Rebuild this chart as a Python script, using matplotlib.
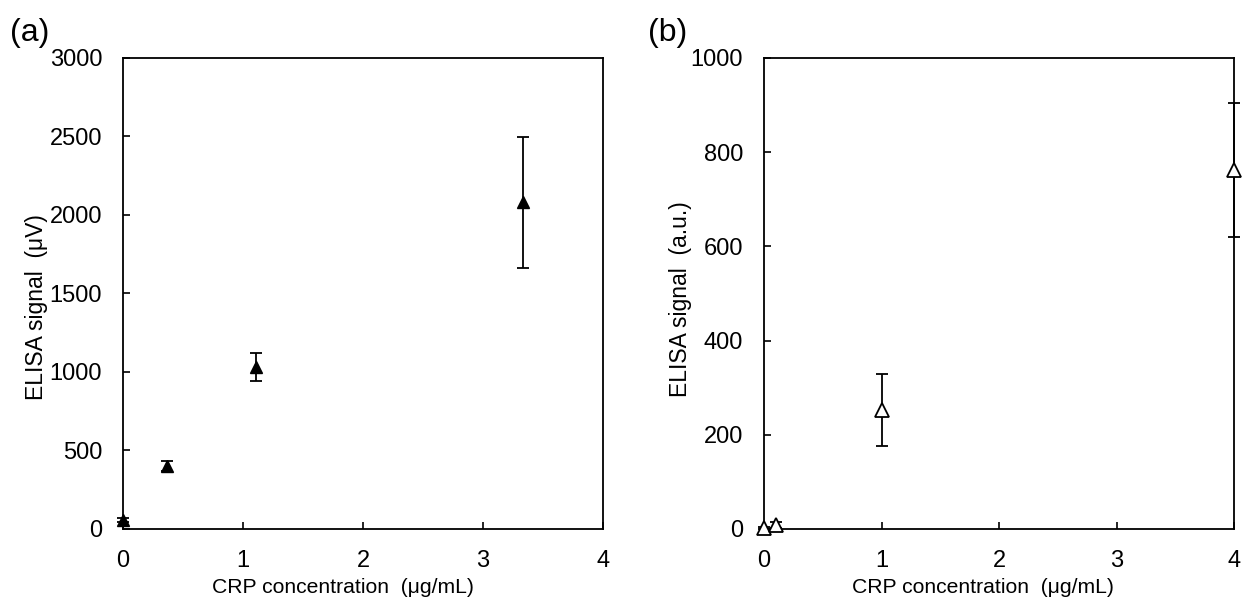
import matplotlib.pyplot as plt

plt.rcParams['font.family'] = ['Liberation Sans', 'DejaVu Sans']

# datos (a)
conc_a = [0, 0.37, 1.11, 3.33]
senal_a = [57, 400, 1030, 2080]
err_a = [15, 30, 90, 415]

# datos (b)
conc_b = [0, 0.1, 1, 4]
senal_b = [3, 8, 253, 762]
err_b = [2, 6, 77, 142]

fig = plt.figure(figsize=(12.47, 6.10), dpi=100)
ax1 = fig.add_axes([0.0986, 0.1328, 0.385, 0.7722])
ax2 = fig.add_axes([0.6127, 0.1328, 0.3769, 0.7722])

ax1.errorbar(conc_a, senal_a, yerr=err_a, fmt='^', color='black', mfc='black',
             ms=9, capsize=4.3, elinewidth=1.3, capthick=1.3, clip_on=False, zorder=3)
ax2.errorbar(conc_b, senal_b, yerr=err_b, fmt='^', color='black', mfc='white',
             mec='black', mew=1.3, ms=10, capsize=4.3, elinewidth=1.3, capthick=1.3,
             clip_on=False, zorder=3)

ax1.set_xlim(0, 4)
ax1.set_ylim(0, 3000)
ax1.set_yticks(range(0, 3001, 500))
ax1.set_ylabel('ELISA signal  (μV)', fontsize=16.5)
ax1.yaxis.set_label_coords(-0.156, 0.471)

ax2.set_xlim(0, 4)
ax2.set_ylim(0, 1000)
ax2.set_yticks(range(0, 1001, 200))
ax2.set_ylabel('ELISA signal  (a.u.)', fontsize=16.5)
ax2.yaxis.set_label_coords(-0.153, 0.488)

for ax in (ax1, ax2):
    ax.set_xticks([0, 1, 2, 3, 4])
    ax.set_xlabel('CRP concentration  (μg/mL)', fontsize=15.2)
    ax.tick_params(direction='in', length=5, width=1.2, labelsize=17, pad=15)
    for s in ax.spines.values():
        s.set_linewidth(1.3)

ax1.xaxis.set_label_coords(0.458, -0.105)
ax2.xaxis.set_label_coords(0.466, -0.105)

fig.text(0.008, 0.932, '(a)', fontsize=23)
fig.text(0.52, 0.932, '(b)', fontsize=23)

plt.savefig('out.png', dpi=100)
